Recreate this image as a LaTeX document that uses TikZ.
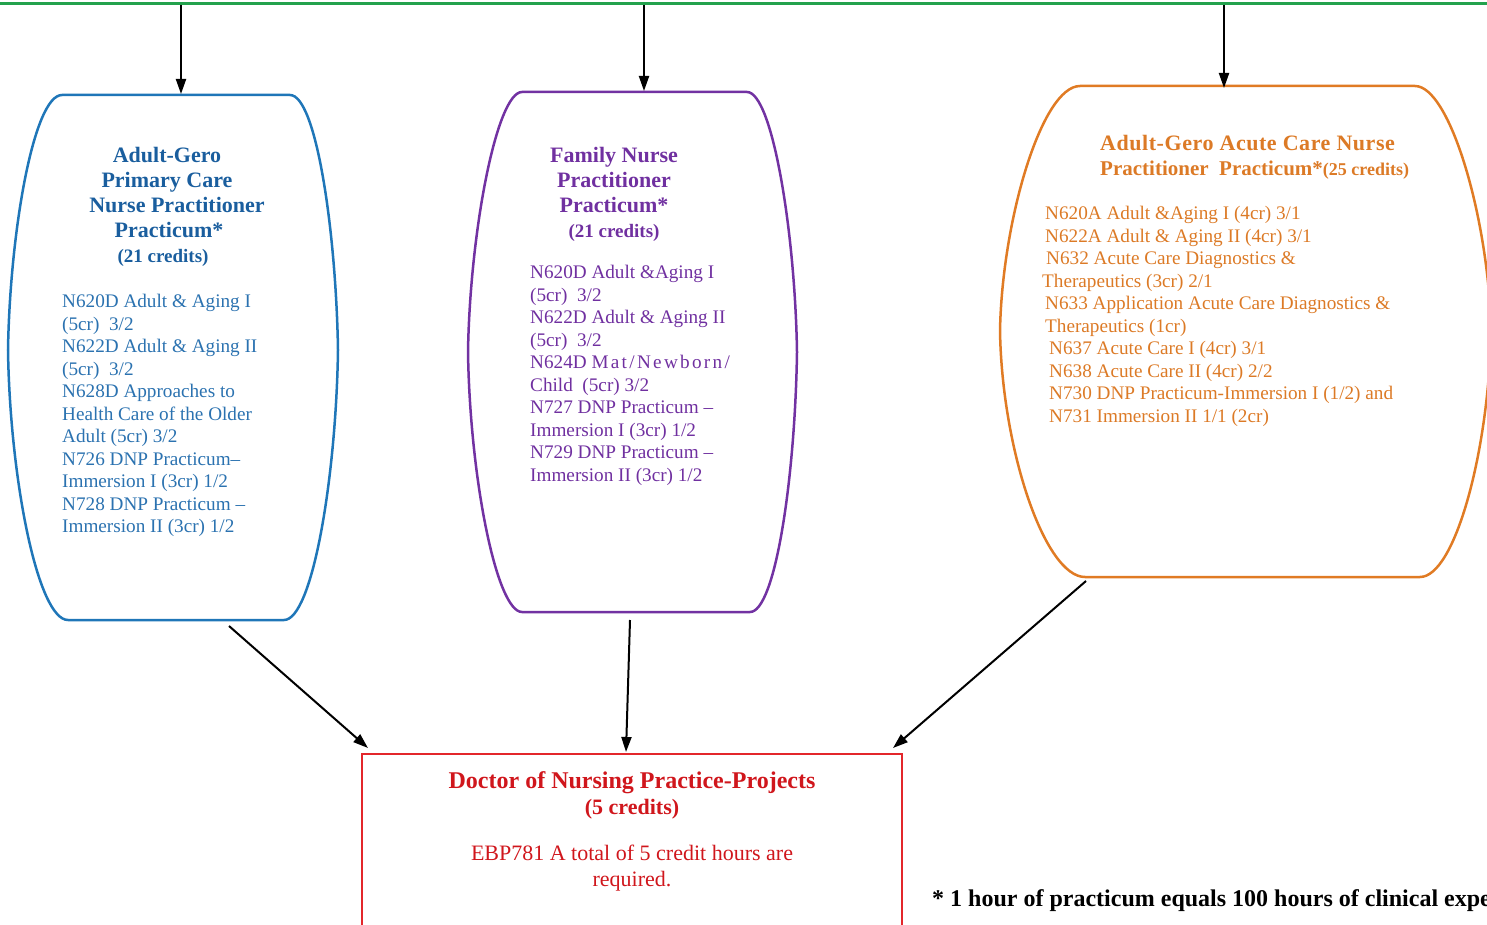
\documentclass[tikz,border=0pt]{standalone}
\usepackage{fontspec}
\setmainfont{Liberation Serif}
\usetikzlibrary{arrows.meta}
\definecolor{gline}{HTML}{23A24D}
\definecolor{bshape}{HTML}{1F76B8}
\definecolor{btitle}{HTML}{1A5E9E}
\definecolor{btext}{HTML}{2B72B0}
\definecolor{pshape}{HTML}{7232A2}
\definecolor{ptext}{HTML}{7030A0}
\definecolor{oshape}{HTML}{E07B24}
\definecolor{otext}{HTML}{DC7A26}
\definecolor{rshape}{HTML}{E3262B}
\definecolor{rtext}{HTML}{D0161C}
\begin{document}
\begin{tikzpicture}[x=1pt,y=-1pt,
  shapeline/.style={line width=2.5pt},
  conn/.style={-{Triangle[length=15pt,width=10pt]}, line width=2pt, black},
  bodytext/.style={inner sep=0pt, align=left, font=\fontsize{19.2}{22.5}\selectfont},
  titletext/.style={inner sep=0pt, font=\bfseries\fontsize{22}{25}\selectfont},
  ]
\useasboundingbox (0,0) rectangle (1487,925);
\clip (0,0) rectangle (1487,925);
% green line
\coordinate (gL) at (0,4);
\coordinate (gR) at (1487,4);
\draw[gline, line width=3pt] (gL) -- (gR);
% blue shape
\draw[shapeline, bshape] (62,95) -- (290,95) .. controls (316,95) and (336,230) .. (338,350)
  .. controls (336,480) and (312,620) .. (284,620) -- (68,620)
  .. controls (38,620) and (10,480) .. (8,350) .. controls (10,230) and (34,95) .. (62,95) -- cycle;
% purple shape
\draw[shapeline, pshape] (522,92) -- (747,92) .. controls (772,92) and (795,230) .. (797,352)
  .. controls (795,480) and (775,612) .. (750,612) -- (522,612)
  .. controls (497,612) and (470,480) .. (468,352) .. controls (470,230) and (497,92) .. (522,92) -- cycle;
% orange shape
\draw[shapeline, oshape] (1080,86) -- (1415,86) .. controls (1450,86) and (1489,220) .. (1491,331)
  .. controls (1489,450) and (1455,577) .. (1420,577) -- (1085,577)
  .. controls (1045,577) and (1002,450) .. (1000,331) .. controls (1002,220) and (1042,86) .. (1080,86) -- cycle;
% red box
\draw[shapeline, rshape] (362,754) rectangle (902,945);

% blue texts
\node[titletext, text=btitle, anchor=north, align=center] (btit) at (167,147)
  {Adult-Gero\\Primary Care\\\hspace*{20pt}Nurse Practitioner\\\hspace*{4pt}Practicum*\\\hspace*{-8pt}{\fontsize{19}{25}\selectfont (21 credits)}};
\node[bodytext, text=btext, anchor=north west] (bbody) at (62,294)
  {N620D Adult \& Aging I\\(5cr)\ \ 3/2\\N622D Adult \& Aging II\\(5cr)\ \ 3/2\\N628D Approaches to\\Health Care of the Older\\Adult (5cr) 3/2\\N726 DNP Practicum–\\Immersion I (3cr) 1/2\\N728 DNP Practicum –\\Immersion II (3cr) 1/2};
% purple texts
\node[titletext, text=ptext, anchor=north, align=center] (ptit) at (614,147)
  {Family Nurse\\Practitioner\\Practicum*\\{\fontsize{19}{24.5}\selectfont(21 credits)}};
\node[bodytext, text=ptext, anchor=north west] (pbody) at (530,265)
  {N620D Adult \&Aging I\\(5cr)\ \ 3/2\\N622D Adult \& Aging II\\(5cr)\ \ 3/2\\N624D {\addfontfeature{LetterSpace=12}Mat/Newborn/}\\Child\ \ (5cr) 3/2\\N727 DNP Practicum –\\Immersion I (3cr) 1/2\\N729 DNP Practicum –\\Immersion II (3cr) 1/2};
% orange texts
\node[titletext, text=otext, anchor=north west, align=left] (otit) at (1100,135)
  {{\addfontfeature{LetterSpace=2.5}Adult-Gero Acute Care Nurse}\\{\fontsize{21}{25}\selectfont Practitioner\ \ Practicum*}{\fontsize{18}{25}\selectfont(25 credits)}};
\node[bodytext, text=otext, anchor=north west] (obody) at (1045,206)
  {N620A Adult \&Aging I (4cr) 3/1\\N622A Adult \& Aging II (4cr) 3/1\\\hspace*{1pt}N632 Acute Care Diagnostics \&\\\hspace*{-3pt}Therapeutics (3cr) 2/1\\N633 Application Acute Care Diagnostics \&\\Therapeutics (1cr)\\\hspace*{4pt}N637 Acute Care I (4cr) 3/1\\\hspace*{4pt}N638 Acute Care II (4cr) 2/2\\\hspace*{4pt}N730 DNP Practicum-Immersion I (1/2) and\\\hspace*{4pt}N731 Immersion II 1/1 (2cr)};
% red texts
\node[inner sep=0pt, anchor=north, align=center, text=rtext, font=\bfseries\fontsize{24}{26}\selectfont] (rtit) at (632,771)
  {Doctor of Nursing Practice-Projects\\{\fontsize{22}{26}\selectfont(5 credits)}};
\node[inner sep=0pt, anchor=north, align=center, text=rtext, font=\fontsize{22}{26}\selectfont] (rbody) at (632,845)
  {EBP781 A total of 5 credit hours are\\required.};
% footnote
\node[inner sep=0pt, anchor=base west, font=\bfseries\fontsize{24}{26}\selectfont] (foot) at (932,906)
  {* 1 hour of practicum equals 100 hours of clinical expe};

% connectors
\coordinate (gA) at (181,5);
\coordinate (gB) at (644,5);
\coordinate (gC) at (1224,5);
\coordinate (bTop) at (181,94);
\coordinate (pTop) at (644,91);
\coordinate (oTop) at (1224,88);
\draw[conn] (gA) -- (bTop);
\draw[conn] (gB) -- (pTop);
\draw[conn] (gC) -- (oTop);
\coordinate (bBot) at (229,626);
\coordinate (pBot) at (630,620);
\coordinate (oBot) at (1086,581);
\coordinate (rA) at (368,748);
\coordinate (rB) at (626,752);
\coordinate (rC) at (893,748);
\draw[conn] (bBot) -- (rA);
\draw[conn] (pBot) -- (rB);
\draw[conn] (oBot) -- (rC);
\end{tikzpicture}
\end{document}
